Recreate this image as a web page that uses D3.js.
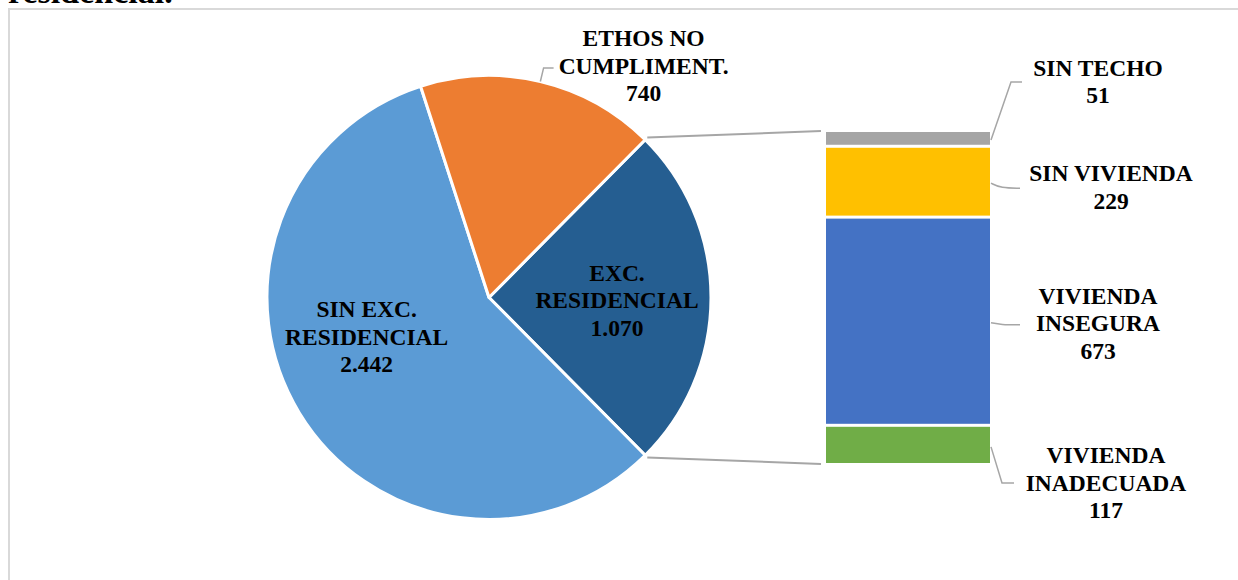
<!DOCTYPE html>
<html>
<head>
<meta charset="utf-8">
<script src="https://cdn.jsdelivr.net/npm/d3@7"></script>
<style>
  body { margin: 0; background: #fff; }
  svg text { font-family: "Liberation Serif", "Times New Roman", serif; font-weight: bold; fill: #000; }
</style>
</head>
<body>
<div id="chart"></div>
<script>
// datos del grafico
var pieLabels = ["EXC.\nRESIDENCIAL", "SIN EXC.\nRESIDENCIAL", "ETHOS NO\nCUMPLIMENT."];
var pieValues = [1070, 2442, 740];
var pieColors = ["#255e91", "#5b9bd5", "#ed7d31"];

var barLabels = ["SIN TECHO", "SIN VIVIENDA", "VIVIENDA\nINSEGURA", "VIVIENDA\nINADECUADA"];
var barValues = [51, 229, 673, 117];
var barColors = ["#a5a5a5", "#ffc000", "#4472c4", "#70ad47"];

var W = 1238, H = 580;
var cx = 489, cy = 297.5, R = 222;   // centro y radio del pastel
var barX = 826, barW = 164, barTop = 132, barBottom = 463;
var fontSize = 23.5, lineH = 27.5;

var es = d3.formatLocale({decimal: ",", thousands: ".", grouping: [3], currency: ["", "€"]});
var fmt = es.format(",d");

var svg = d3.select("#chart").append("svg")
    .attr("width", W)
    .attr("height", H);

// marco del grafico
svg.append("rect")
    .attr("x", 9).attr("y", 9)
    .attr("width", W + 20).attr("height", H + 20)
    .attr("fill", "#fff")
    .attr("stroke", "#d9d9d9")
    .attr("stroke-width", 2);

// texto cortado de arriba (solo se ve el pie de las letras)
svg.append("text")
    .attr("x", 8).attr("y", 3)
    .style("font-size", "34px")
    .text("residencial.");

// escribe un bloque de lineas centrado en (x, y)
function block(x, y, lines) {
  var t = svg.append("text")
      .attr("text-anchor", "middle")
      .style("font-size", fontSize + "px");
  var y0 = y - (lines.length - 1) * lineH / 2 + fontSize * 0.33;
  lines.forEach(function(l, i) {
    t.append("tspan").attr("x", x).attr("y", y0 + i * lineH).text(l);
  });
}

// el trozo separado queda centrado a la derecha
var total = d3.sum(pieValues);
var splitAng = pieValues[0] / total * 2 * Math.PI;
var a0 = Math.PI / 2 - splitAng / 2;

var pie = d3.pie().sort(null).startAngle(a0).endAngle(a0 + 2 * Math.PI);
var arcs = pie(pieValues);
var arc = d3.arc().innerRadius(0).outerRadius(R);

var g = svg.append("g").attr("transform", "translate(" + cx + "," + cy + ")");

g.selectAll("path.slice")
  .data(arcs).enter().append("path")
    .attr("class", "slice")
    .attr("d", arc)
    .attr("fill", function(d, i) { return pieColors[i]; })
    .attr("stroke", "#fff")
    .attr("stroke-width", 3)
    .attr("stroke-linejoin", "round");

function polar(r, a) { return [cx + r * Math.sin(a), cy - r * Math.cos(a)]; }

// lineas que unen el pastel con la barra
var y = d3.scaleLinear().domain([0, pieValues[0]]).range([barTop, barBottom]);
var pTop = polar(R + 3, arcs[0].startAngle);
var pBot = polar(R + 3, arcs[0].endAngle);
svg.append("line")
    .attr("x1", pTop[0]).attr("y1", pTop[1])
    .attr("x2", barX - 5).attr("y2", y(0) - 1)
    .attr("stroke", "#a6a6a6").attr("stroke-width", 2);
svg.append("line")
    .attr("x1", pBot[0]).attr("y1", pBot[1])
    .attr("x2", barX - 5).attr("y2", y(pieValues[0]) + 1)
    .attr("stroke", "#a6a6a6").attr("stroke-width", 2);

// etiquetas del pastel
var labelR = 128;
var nudge = [[0, 3], [-13, -27]];
arcs.forEach(function(d, i) {
  var lines = pieLabels[i].split("\n").concat([fmt(pieValues[i])]);
  var mid = (d.startAngle + d.endAngle) / 2;
  if (i < 2) {
    var p = polar(labelR, mid);
    block(p[0] + nudge[i][0], p[1] + nudge[i][1], lines);
  } else {
    var p0 = polar(R, mid), p1 = polar(R + 14, mid);
    var p2 = [p1[0] + 10, p1[1]];
    svg.append("path")
        .attr("d", d3.line()([p0, p1, p2]))
        .attr("fill", "none").attr("stroke", "#a6a6a6").attr("stroke-width", 1.5);
    block(p2[0] + 90, p2[1] - 2, lines);
  }
});

// barra apilada
var acc = 0;
var segs = barValues.map(function(v) { var s = {y0: acc, y1: acc + v, v: v}; acc += v; return s; });

svg.selectAll("rect.seg")
  .data(segs).enter().append("rect")
    .attr("class", "seg")
    .attr("x", barX - 1.5)
    .attr("width", barW + 3)
    .attr("y", function(d) { return y(d.y0) - 1.5; })
    .attr("height", function(d) { return y(d.y1) - y(d.y0) + 3; })
    .attr("fill", function(d, i) { return barColors[i]; })
    .attr("stroke", "#fff")
    .attr("stroke-width", 3);

// etiquetas de la barra, las de los extremos se apartan
var barLabelDy = [-58, 4, 1, 38];
var barLabelDx = [107, 120, 107, 115];
segs.forEach(function(s, i) {
  var ym = (y(s.y0) + y(s.y1)) / 2;
  var xe = barX + barW + 1;
  var ly = ym + barLabelDy[i];
  var pts;
  if (Math.abs(barLabelDy[i]) > 10) {
    pts = [[xe, ym + (barLabelDy[i] < 0 ? 0 : 2)], [xe + 20 * (barLabelDy[i] < 0 ? 1 : 0.55), ly], [xe + (barLabelDy[i] < 0 ? 31 : 23), ly]];
  } else {
    pts = [[xe, ym], [xe + 10, ly + 1], [xe + 29, ly + 1]];
  }
  svg.append("path")
      .attr("d", d3.line().curve(Math.abs(barLabelDy[i]) > 10 ? d3.curveLinear : d3.curveBasis)(pts))
      .attr("fill", "none").attr("stroke", "#a6a6a6").attr("stroke-width", 1.5);
  var lines = barLabels[i].split("\n").concat([fmt(s.v)]);
  block(xe + barLabelDx[i], ly, lines);
});
</script>
</body>
</html>
